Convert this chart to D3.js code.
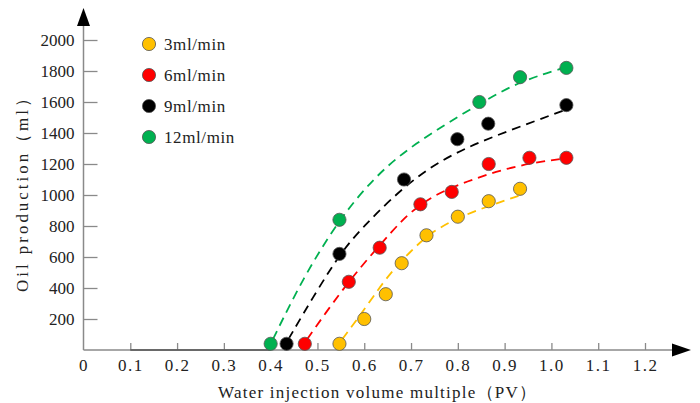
<!DOCTYPE html>
<html lang="en">
	<head>
		<meta charset="utf-8">
		<title>Oil production</title>
		<script src="https://d3js.org/d3.v7.min.js"></script>
		<style>
			body {
				margin: 0;
				background: #fff;
			}
			svg text {
				font-family: "Liberation Serif", "Times New Roman", "DejaVu Serif", serif;
				fill: #222;
			}
		</style>
	</head>
	<body>
		<div id="chart"></div>
		<script>
			// series names + colours
			var seriesNames = ["3ml/min", "6ml/min", "9ml/min", "12ml/min"];
			var seriesColors = ["#FFC000", "#FF0000", "#000000", "#00B050"];

			// measured points (PV, ml)
			var pv3 = [0.547, 0.600, 0.646, 0.680, 0.733, 0.800, 0.866, 0.933];
			var oil3 = [40, 200, 360, 560, 740, 860, 960, 1040];
			var pv6 = [0.473, 0.567, 0.633, 0.720, 0.787, 0.866, 0.953, 1.032];
			var oil6 = [40, 440, 660, 940, 1020, 1200, 1240, 1240];
			var pv9 = [0.434, 0.547, 0.685, 0.799, 0.865, 1.032];
			var oil9 = [40, 620, 1100, 1360, 1460, 1580];
			var pv12 = [0.400, 0.547, 0.846, 0.933, 1.032];
			var oil12 = [40, 840, 1600, 1760, 1820];

			// dashed trend curves
			var trendPv3 = [0.553, 0.584, 0.619, 0.655, 0.698, 0.740, 0.797, 0.862, 0.930];
			var trendOil3 = [70, 194, 344, 495, 634, 753, 850, 925, 995];
			var trendPv6 = [0.478, 0.527, 0.567, 0.605, 0.662, 0.698, 0.755, 0.820, 0.890, 0.960, 1.030];
			var trendOil6 = [70, 280, 440, 580, 775, 890, 1010, 1088, 1160, 1208, 1237];
			var trendPv9 = [0.438, 0.500, 0.555, 0.600, 0.655, 0.733, 0.820, 0.905, 1.030];
			var trendOil9 = [70, 390, 650, 800, 970, 1170, 1310, 1410, 1550];
			var trendPv12 = [0.405, 0.470, 0.547, 0.620, 0.700, 0.846, 0.933, 1.032];
			var trendOil12 = [70, 470, 845, 1110, 1320, 1590, 1735, 1825];

			// zero production stretch along the x axis
			var zeroPv = [0.1, 0.4];

			var xTicks = d3.range(0, 13).map(function(i) { return i / 10; });
			var yTicks = [200, 400, 600, 800, 1000, 1200, 1400, 1600, 1800, 2000];

			function makeGraph(element) {
				var width = 700, height = 403;
				var serif = "Liberation Serif, Times New Roman, DejaVu Serif, serif";

				var x = d3.scaleLinear().domain([0, 1.2]).range([83.5, 645]);
				var y = d3.scaleLinear().domain([0, 2000]).range([350, 40]);

				var svg = d3.select(element).append("svg")
					.attr("width", width)
					.attr("height", height);

				var axisColor = "#8a8a8a";

				// y axis
				var gy = svg.append("g")
					.attr("transform", "translate(" + x(0) + ",0)")
					.call(d3.axisLeft(y).tickValues(yTicks).tickFormat(d3.format("d"))
						.tickSizeInner(-14).tickSizeOuter(0).tickPadding(9));
				gy.attr("font-family", serif);
				gy.select(".domain").remove();
				gy.selectAll(".tick line").attr("stroke", axisColor).attr("stroke-width", 1.3);
				gy.selectAll(".tick text").attr("font-size", 17).style("fill", "#222");

				// x axis
				var gx = svg.append("g")
					.attr("transform", "translate(0," + y(0) + ")")
					.call(d3.axisBottom(x).tickValues(xTicks).tickSizeInner(-7).tickSizeOuter(0).tickPadding(9)
						.tickFormat(function(d) { return d === 0 ? "0" : d3.format(".1f")(d); }));
				gx.attr("font-family", serif);
				gx.select(".domain").remove();
				gx.selectAll(".tick line").attr("stroke", axisColor).attr("stroke-width", 1.3)
					.filter(function(d) { return d === 0; }).remove();
				gx.selectAll(".tick text").attr("font-size", 17).style("fill", "#222")
					.style("letter-spacing", "1.5px");

				// axis lines with arrow heads
				svg.append("line")
					.attr("x1", x(0)).attr("x2", x(0))
					.attr("y1", y(0)).attr("y2", 24)
					.attr("stroke", axisColor).attr("stroke-width", 1.5);
				svg.append("line")
					.attr("x1", x(0)).attr("x2", 674)
					.attr("y1", y(0)).attr("y2", y(0))
					.attr("stroke", axisColor).attr("stroke-width", 1.5);
				svg.append("path")
					.attr("d", "M" + x(0) + ",8 L" + (x(0) - 6.5) + ",26 L" + (x(0) + 6.5) + ",26 Z")
					.attr("fill", "#000");
				svg.append("path")
					.attr("d", "M691," + y(0) + " L672," + (y(0) - 6.5) + " L672," + (y(0) + 6.5) + " Z")
					.attr("fill", "#000");

				svg.append("line")
					.attr("x1", x(zeroPv[0])).attr("x2", x(zeroPv[1]))
					.attr("y1", y(0)).attr("y2", y(0))
					.attr("stroke", "#555").attr("stroke-width", 1.5);

				// axis titles
				svg.append("text")
					.attr("x", 218).attr("y", 398)
					.attr("font-size", 17)
					.attr("textLength", 318).attr("lengthAdjust", "spacing")
					.text("Water injection volume multiple（PV）");

				svg.append("text")
					.attr("transform", "translate(28,292) rotate(-90)")
					.attr("font-size", 17)
					.attr("textLength", 202).attr("lengthAdjust", "spacing")
					.text("Oil production（ml）");

				var points = [
					d3.zip(pv3, oil3), d3.zip(pv6, oil6), d3.zip(pv9, oil9), d3.zip(pv12, oil12)
				];
				var trends = [
					d3.zip(trendPv3, trendOil3), d3.zip(trendPv6, trendOil6),
					d3.zip(trendPv9, trendOil9), d3.zip(trendPv12, trendOil12)
				];

				var line = d3.line()
					.x(function(d) { return x(d[0]); })
					.y(function(d) { return y(d[1]); })
					.curve(d3.curveBasis);

				svg.selectAll(".trend")
					.data(trends)
					.enter().append("path")
					.attr("class", "trend")
					.attr("d", line)
					.attr("fill", "none")
					.attr("stroke", function(d, i) { return seriesColors[i]; })
					.attr("stroke-width", 1.8)
					.attr("stroke-dasharray", "9,6");

				points.forEach(function(pts, i) {
					svg.selectAll(".pt" + i)
						.data(pts)
						.enter().append("circle")
						.attr("class", "pt" + i)
						.attr("cx", function(d) { return x(d[0]); })
						.attr("cy", function(d) { return y(d[1]); })
						.attr("r", 6.6)
						.attr("fill", seriesColors[i])
						.attr("stroke", "#555")
						.attr("stroke-width", 0.8);
				});

				// legend
				var legend = svg.selectAll(".legend")
					.data(seriesNames)
					.enter().append("g")
					.attr("class", "legend")
					.attr("transform", function(d, i) { return "translate(149," + (44 + i * 31) + ")"; });
				legend.append("circle")
					.attr("r", 6.6)
					.attr("fill", function(d, i) { return seriesColors[i]; })
					.attr("stroke", "#555")
					.attr("stroke-width", 0.8);
				legend.append("text")
					.attr("x", 15).attr("y", 6)
					.attr("font-size", 17)
					.style("letter-spacing", "0.6px")
					.text(function(d) { return d; });
			}

			makeGraph("#chart");
		</script>
	</body>
</html>
